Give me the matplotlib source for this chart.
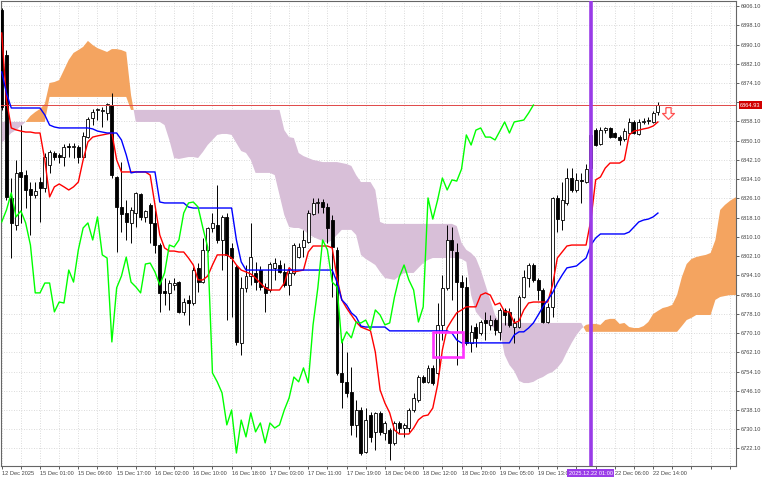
import numpy as np
import matplotlib
matplotlib.use("Agg")
import matplotlib.pyplot as plt
from matplotlib.patches import Rectangle
from matplotlib.path import Path
from matplotlib.transforms import blended_transform_factory

plt.rcParams['font.family'] = ['Liberation Sans', 'DejaVu Sans']

# H1 candles, 12 Dec 16:00 -> 22 Dec 15:00 (bar index = position on the time axis)
opens = [6904.4, 6885.7, 6826.3, 6815.0, 6837.1, 6835.8, 6830.0, 6827.5, 6832.9, 6830.4,
         6840.0, 6845.0, 6844.2, 6843.3, 6847.9, 6847.5, 6847.5, 6843.3, 6851.6, 6859.5,
         6862.9, 6862.4, 6861.6, 6865.0, 6835.0, 6822.5, 6820.0, 6815.9, 6820.0, 6827.9,
         6818.4, 6823.4, 6815.9, 6806.7, 6787.6, 6786.8, 6790.1, 6791.3, 6778.9, 6783.9,
         6782.6, 6797.2, 6791.3, 6804.7, 6813.8, 6815.0, 6808.8, 6818.4, 6805.5, 6797.6,
         6766.0, 6788.9, 6793.8, 6795.1, 6796.3, 6789.3, 6788.0, 6797.2, 6798.4, 6795.5,
         6790.1, 6795.1, 6801.7, 6805.9, 6808.0, 6819.6, 6824.2, 6824.6, 6822.5, 6817.1,
         6804.7, 6753.5, 6749.8, 6745.6, 6731.9, 6738.1, 6720.7, 6736.0, 6729.0, 6736.9,
         6728.6, 6729.8, 6724.4, 6732.7, 6730.6, 6730.6, 6738.1, 6742.3, 6751.8, 6749.8,
         6755.6, 6753.5, 6773.5, 6788.9, 6808.8, 6803.8, 6791.3, 6789.3, 6766.0, 6772.6,
         6770.1, 6775.5, 6773.5, 6775.5, 6770.6, 6779.7, 6778.9, 6772.6, 6772.6, 6785.1,
         6793.0, 6798.4, 6792.2, 6788.0, 6774.7, 6781.0, 6826.3, 6817.1, 6824.2, 6834.6,
         6829.6, 6833.8, 6832.9, 6838.7, 6854.5, 6848.7, 6854.5, 6855.4, 6853.3, 6851.6,
         6850.8, 6853.3, 6857.9, 6852.9, 6857.9, 6858.3, 6857.9, 6862.0]
highs = [6905.3, 6887.8, 6834.6, 6842.1, 6856.6, 6837.9, 6832.9, 6832.9, 6835.0, 6845.0,
         6846.2, 6845.8, 6845.0, 6848.7, 6849.1, 6849.1, 6848.3, 6853.7, 6859.9, 6863.3,
         6863.7, 6864.1, 6865.8, 6869.9, 6835.4, 6841.2, 6825.4, 6822.5, 6828.8, 6828.4,
         6821.3, 6824.2, 6821.3, 6807.6, 6793.0, 6792.2, 6793.0, 6791.8, 6784.7, 6785.9,
         6797.6, 6799.2, 6809.6, 6814.2, 6820.0, 6831.7, 6819.2, 6820.0, 6807.6, 6798.4,
         6793.4, 6798.4, 6815.9, 6799.7, 6798.0, 6790.9, 6799.7, 6801.3, 6800.5, 6799.2,
         6797.6, 6807.6, 6807.6, 6813.0, 6821.3, 6826.3, 6826.3, 6825.9, 6824.2, 6819.2,
         6805.9, 6767.6, 6762.2, 6756.0, 6742.3, 6739.4, 6738.9, 6737.3, 6737.3, 6737.7,
         6733.5, 6730.6, 6733.5, 6733.5, 6732.7, 6738.9, 6745.2, 6752.7, 6752.7, 6756.8,
         6756.8, 6782.6, 6794.2, 6815.0, 6814.2, 6807.6, 6794.2, 6793.4, 6773.5, 6774.3,
         6775.5, 6778.9, 6777.6, 6776.4, 6780.5, 6780.5, 6780.5, 6776.4, 6785.9, 6796.3,
         6799.2, 6799.2, 6793.0, 6788.9, 6782.6, 6826.7, 6827.5, 6832.9, 6838.7, 6838.7,
         6836.7, 6836.7, 6840.4, 6855.4, 6855.4, 6855.8, 6855.8, 6855.8, 6853.7, 6852.5,
         6855.4, 6859.5, 6858.7, 6859.1, 6859.5, 6859.9, 6862.4, 6866.2]
lows = [6862.9, 6825.4, 6801.3, 6813.0, 6815.9, 6822.1, 6810.9, 6826.3, 6816.3, 6828.8,
        6836.7, 6842.1, 6840.8, 6839.6, 6843.3, 6842.9, 6840.8, 6842.9, 6851.2, 6856.6,
        6858.7, 6855.8, 6858.7, 6834.6, 6803.8, 6812.1, 6808.8, 6807.6, 6814.2, 6817.1,
        6816.3, 6807.6, 6803.4, 6778.9, 6781.8, 6779.7, 6788.0, 6778.5, 6777.6, 6773.5,
        6781.8, 6787.2, 6790.9, 6803.8, 6812.1, 6807.6, 6796.3, 6775.5, 6776.8, 6765.1,
        6760.9, 6787.2, 6790.1, 6788.0, 6788.0, 6778.9, 6787.2, 6792.2, 6795.1, 6789.3,
        6785.9, 6794.2, 6801.3, 6801.7, 6807.6, 6819.2, 6820.0, 6820.0, 6807.6, 6785.1,
        6752.7, 6739.0, 6743.6, 6727.7, 6726.9, 6719.4, 6720.2, 6724.8, 6721.5, 6727.7,
        6725.6, 6717.3, 6723.6, 6728.6, 6726.9, 6729.0, 6737.3, 6741.4, 6749.4, 6749.4,
        6748.5, 6752.7, 6767.2, 6788.0, 6783.9, 6756.8, 6764.3, 6765.1, 6762.2, 6764.3,
        6769.3, 6767.2, 6771.4, 6769.3, 6767.2, 6773.5, 6772.6, 6766.0, 6772.2, 6784.7,
        6789.3, 6791.3, 6783.9, 6774.3, 6774.3, 6776.8, 6812.1, 6813.0, 6823.4, 6828.8,
        6828.8, 6824.2, 6832.5, 6838.7, 6847.9, 6848.3, 6853.3, 6851.2, 6851.2, 6848.3,
        6850.0, 6852.5, 6852.9, 6852.5, 6857.0, 6857.0, 6857.5, 6860.8]
closes = [6864.1, 6826.7, 6815.9, 6836.7, 6835.0, 6829.6, 6827.5, 6829.2, 6830.4, 6843.3,
          6845.4, 6843.3, 6843.3, 6847.5, 6847.5, 6847.9, 6843.3, 6852.1, 6859.1, 6862.0,
          6863.3, 6862.9, 6865.4, 6835.8, 6822.5, 6819.6, 6816.3, 6821.3, 6828.4, 6818.4,
          6820.9, 6815.9, 6806.7, 6786.8, 6786.8, 6790.9, 6790.9, 6778.9, 6783.0, 6782.6,
          6796.3, 6791.3, 6804.7, 6813.8, 6815.9, 6808.8, 6818.4, 6802.6, 6801.3, 6766.4,
          6788.9, 6793.8, 6801.7, 6791.3, 6789.3, 6786.8, 6798.8, 6799.2, 6795.5, 6790.1,
          6795.1, 6806.7, 6805.9, 6808.8, 6820.0, 6824.2, 6824.6, 6822.5, 6813.8, 6805.9,
          6753.5, 6749.8, 6745.2, 6731.9, 6738.1, 6720.2, 6733.9, 6726.9, 6736.9, 6729.0,
          6732.7, 6724.4, 6732.7, 6730.6, 6731.9, 6738.1, 6743.1, 6751.8, 6749.8, 6755.6,
          6749.4, 6773.5, 6788.9, 6808.8, 6804.7, 6791.3, 6789.3, 6766.0, 6770.6, 6768.1,
          6774.7, 6774.3, 6775.5, 6771.4, 6779.7, 6777.6, 6773.5, 6774.3, 6785.1, 6793.4,
          6798.4, 6792.2, 6788.0, 6774.7, 6781.0, 6826.3, 6817.5, 6825.4, 6834.6, 6829.6,
          6833.8, 6833.3, 6838.3, 6852.5, 6848.3, 6854.5, 6855.4, 6851.6, 6851.6, 6850.4,
          6854.1, 6857.9, 6853.3, 6857.9, 6858.3, 6858.7, 6861.6, 6864.93]

# Ichimoku lines
tenkan = [6894.9, 6867.0, 6855.4, 6854.6, 6854.1, 6853.7, 6853.7, 6853.3, 6853.3, 6842.1,
          6826.7, 6830.9, 6832.1, 6830.9, 6829.6, 6830.9, 6832.9, 6842.1, 6849.6, 6851.6,
          6852.1, 6852.5, 6852.9, 6853.3, 6842.1, 6837.1, 6837.1, 6837.1, 6837.1, 6837.1,
          6837.1, 6835.8, 6823.4, 6810.9, 6805.5, 6804.2, 6804.2, 6803.8, 6803.8, 6801.3,
          6798.4, 6792.2, 6792.2, 6793.8, 6798.4, 6802.6, 6802.6, 6802.6, 6801.3, 6798.4,
          6796.3, 6795.5, 6794.7, 6793.0, 6790.9, 6788.9, 6788.0, 6788.0, 6788.0, 6790.9,
          6797.2, 6795.5, 6795.9, 6796.3, 6803.8, 6806.3, 6806.3, 6806.3, 6806.3, 6805.5,
          6793.0, 6783.9, 6780.5, 6777.6, 6774.7, 6772.6, 6771.8, 6771.0, 6762.2, 6746.4,
          6741.0, 6736.9, 6729.8, 6728.1, 6728.1, 6728.1, 6730.6, 6734.0, 6735.6, 6736.0,
          6738.9, 6748.5, 6763.1, 6772.2, 6775.5, 6778.5, 6779.7, 6781.0, 6781.0, 6781.0,
          6785.9, 6786.8, 6785.9, 6781.8, 6782.6, 6778.9, 6778.9, 6774.3, 6775.1, 6779.7,
          6782.6, 6783.0, 6783.0, 6783.0, 6783.0, 6790.1, 6801.3, 6803.8, 6806.3, 6806.7,
          6806.7, 6806.7, 6806.7, 6817.1, 6833.8, 6835.0, 6838.7, 6840.8, 6840.8, 6840.8,
          6842.1, 6852.5, 6854.1, 6854.5, 6855.0, 6855.4, 6856.2, 6857.9]
kijun = [6878.7, 6869.9, 6863.7, 6863.7, 6863.7, 6863.7, 6863.7, 6863.7, 6863.7, 6860.8,
         6856.6, 6855.8, 6855.4, 6855.4, 6855.4, 6855.4, 6855.4, 6855.4, 6855.4, 6855.0,
         6854.1, 6853.7, 6853.3, 6853.3, 6853.3, 6850.4, 6844.2, 6836.7, 6837.1, 6837.1,
         6837.1, 6837.1, 6837.1, 6824.6, 6824.2, 6824.2, 6824.2, 6824.2, 6824.2, 6822.5,
         6822.1, 6822.1, 6822.1, 6822.1, 6822.1, 6822.1, 6822.1, 6822.1, 6822.1, 6808.8,
         6799.7, 6796.3, 6796.3, 6796.3, 6796.3, 6796.3, 6796.3, 6796.3, 6796.3, 6796.3,
         6796.3, 6796.3, 6796.3, 6796.3, 6796.3, 6796.3, 6796.3, 6796.3, 6796.3, 6796.3,
         6791.3, 6783.9, 6781.8, 6778.5, 6776.8, 6773.0, 6772.6, 6772.6, 6772.6, 6772.6,
         6772.6, 6771.0, 6771.0, 6771.0, 6771.0, 6771.0, 6771.0, 6771.0, 6771.0, 6771.0,
         6771.0, 6771.0, 6771.0, 6771.0, 6770.1, 6767.2, 6766.0, 6766.0, 6766.0, 6766.0,
         6766.0, 6766.0, 6766.0, 6766.0, 6766.0, 6766.0, 6766.0, 6769.3, 6770.6, 6770.6,
         6772.2, 6774.3, 6777.6, 6781.0, 6783.9, 6786.8, 6790.9, 6794.2, 6797.2, 6797.6,
         6798.0, 6799.7, 6801.3, 6806.7, 6809.6, 6811.3, 6811.3, 6811.3, 6811.3, 6811.3,
         6811.3, 6812.1, 6814.2, 6816.3, 6817.1, 6817.5, 6818.4, 6820.0]
span_a = [6849.1, 6851.2, 6853.3, 6854.5, 6856.2, 6857.9, 6860.4, 6862.0, 6863.3, 6865.4,
          6874.1, 6874.5, 6875.3, 6879.5, 6883.7, 6886.6, 6887.8, 6889.1, 6891.6, 6889.9,
          6888.6, 6887.8, 6887.0, 6888.2, 6888.2, 6887.8, 6887.0, 6869.1, 6857.9, 6857.9,
          6857.9, 6857.9, 6857.9, 6857.9, 6856.6, 6850.4, 6842.9, 6842.5, 6842.9, 6843.3,
          6843.3, 6842.9, 6845.4, 6848.3, 6850.4, 6852.5, 6852.9, 6852.9, 6852.5, 6849.1,
          6845.8, 6845.0, 6842.1, 6836.7, 6836.7, 6836.7, 6836.7, 6835.8, 6827.5, 6819.2,
          6814.2, 6813.8, 6813.8, 6813.0, 6811.3, 6810.1, 6809.2, 6808.4, 6807.6, 6808.8,
          6810.9, 6813.0, 6813.0, 6813.0, 6810.9, 6802.6, 6800.9, 6799.7, 6798.4, 6795.5,
          6793.0, 6792.6, 6792.2, 6793.8, 6795.1, 6795.1, 6795.1, 6797.2, 6799.2, 6800.5,
          6801.3, 6801.3, 6801.3, 6801.3, 6801.3, 6801.3, 6800.9, 6799.7, 6785.9, 6778.9,
          6776.4, 6774.7, 6773.0, 6772.2, 6771.4, 6761.0, 6756.8, 6754.3, 6750.2, 6749.3,
          6749.3, 6749.8, 6751.0, 6751.8, 6753.1, 6753.9, 6755.6, 6758.1, 6762.2, 6766.0,
          6769.3, 6771.8, 6773.5, 6773.9, 6773.9, 6773.5, 6775.5, 6776.0, 6776.0, 6773.9,
          6774.3, 6772.6, 6772.2, 6772.2, 6773.0, 6774.7, 6778.0, 6779.3, 6780.5, 6781.0,
          6781.8, 6785.9, 6793.4, 6798.8, 6800.9, 6801.7, 6802.2, 6802.6, 6803.4, 6808.8,
          6821.3, 6823.4, 6825.0, 6826.3, 6827.1]
span_b = [6857.9, 6857.9, 6857.9, 6857.9, 6857.9, 6857.9, 6857.9, 6857.9, 6857.9, 6857.9,
          6868.3, 6868.3, 6868.3, 6868.3, 6868.3, 6868.3, 6868.3, 6868.3, 6868.3, 6868.3,
          6868.3, 6868.3, 6868.3, 6868.3, 6868.3, 6868.3, 6868.3, 6862.9, 6862.9, 6862.9,
          6862.9, 6862.9, 6862.9, 6862.9, 6862.9, 6862.9, 6862.9, 6862.9, 6862.9, 6862.9,
          6862.9, 6862.9, 6862.9, 6862.9, 6862.9, 6862.9, 6862.9, 6862.9, 6862.9, 6862.9,
          6862.9, 6862.9, 6862.9, 6862.9, 6862.9, 6862.9, 6862.9, 6862.9, 6862.9, 6854.5,
          6851.6, 6851.2, 6845.0, 6843.7, 6842.9, 6842.1, 6841.7, 6841.2, 6841.2, 6841.2,
          6841.2, 6840.8, 6840.4, 6839.6, 6835.8, 6832.9, 6832.9, 6832.9, 6829.6, 6816.3,
          6815.5, 6815.5, 6815.5, 6815.5, 6815.5, 6815.5, 6815.5, 6815.5, 6815.5, 6815.5,
          6815.5, 6815.5, 6815.5, 6815.5, 6815.5, 6814.6, 6807.6, 6804.7, 6803.4, 6801.3,
          6796.3, 6790.1, 6783.9, 6777.6, 6774.3, 6774.3, 6774.3, 6774.3, 6774.3, 6774.3,
          6774.3, 6774.3, 6774.3, 6774.3, 6774.3, 6774.3, 6774.3, 6774.3, 6774.3, 6774.3,
          6774.3, 6774.3, 6770.6, 6770.6, 6770.6, 6770.6, 6770.6, 6770.6, 6770.6, 6770.6,
          6770.6, 6770.6, 6770.6, 6770.6, 6770.6, 6770.6, 6770.6, 6770.6, 6770.6, 6770.6,
          6770.6, 6770.6, 6773.0, 6775.5, 6776.4, 6777.6, 6777.6, 6777.6, 6777.6, 6783.9,
          6785.1, 6785.5, 6785.9, 6785.9, 6785.9]
chikou_shift = 26

last_price = 6864.93
session_bar = 123          # 2025.12.22 01:00
session_label = "2025.12.22 01:00"
box_bars = (90.0, 96.25)   # highlighted zone
box_prices = (6760.3, 6770.7)
arrow_bar, arrow_price = 139, 6861.8

xtick_bars = [0, 8, 16, 24, 32, 40, 48, 56, 64, 72, 80, 88, 96, 104, 112, 128, 136]
xtick_labels = ["12 Dec 2025", "15 Dec 01:00", "15 Dec 09:00", "15 Dec 17:00", "16 Dec 02:00",
                "16 Dec 10:00", "16 Dec 18:00", "17 Dec 03:00", "17 Dec 11:00", "17 Dec 19:00",
                "18 Dec 04:00", "18 Dec 12:00", "18 Dec 20:00", "19 Dec 05:00", "19 Dec 13:00",
                "22 Dec 06:00", "22 Dec 14:00"]
price_ticks = np.arange(6722.1, 6906.2, 8.0)

o = np.array(opens)
h = np.array(highs)
l = np.array(lows)
c = np.array(closes)
bars = np.arange(len(c))
sa = np.array(span_a)
sb = np.array(span_b)
xa = np.arange(len(sa))

fig = plt.figure(figsize=(7.68, 4.8), dpi=100)
ax = fig.add_axes([0.5 / 768, 14 / 480, 735.5 / 768, 465 / 480])
ax.set_xlim(-0.25, 153.3)
ax.set_ylim(6714.8, 6908.2)

# cloud
ax.fill_between(xa, sa, sb, where=sa >= sb, interpolate=True, color='#F4A460', lw=0, zorder=1)
ax.fill_between(xa, sa, sb, where=sa < sb, interpolate=True, color='#D8BFD8', lw=0, zorder=1)

# candles
up = c >= o
body_lo = np.minimum(o, c)
body_h = np.maximum(np.abs(c - o), 0.3)
ax.vlines(bars, l, h, color='black', lw=0.7, zorder=3)
ax.bar(bars[up], body_h[up], bottom=body_lo[up], width=0.62, color='white',
       edgecolor='black', linewidth=0.6, zorder=3.2)
ax.bar(bars[~up], body_h[~up], bottom=body_lo[~up], width=0.62, color='black',
       edgecolor='black', linewidth=0.6, zorder=3.2)

# price line
ax.axhline(last_price, color='#E04848', lw=0.7, zorder=3.5)

# ichimoku lines
ax.plot(bars, tenkan, color='#FF0000', lw=1.0, zorder=4)
ax.plot(bars, kijun, color='#0000FF', lw=1.0, zorder=4)
ax.plot(bars[chikou_shift:] - chikou_shift, c[chikou_shift:], color='#00FF00', lw=1.0, zorder=4)

# session line, box, arrow
ax.axvline(session_bar, color='#9A3BE8', lw=2.6, zorder=5)
ax.add_patch(Rectangle((box_bars[0], box_prices[0]), box_bars[1] - box_bars[0],
                       box_prices[1] - box_prices[0], fill=False, ec='#FF33FF', lw=1.9, zorder=6))
arrow = Path([(-0.22, 0.5), (0.22, 0.5), (0.22, 0.0), (0.5, 0.0), (0.0, -0.5),
              (-0.5, 0.0), (-0.22, 0.0), (-0.22, 0.5)])
ax.plot(arrow_bar, arrow_price, marker=arrow, markersize=8.5, mfc='white', mec='#FF5050',
        mew=0.9, zorder=6)

# axes styling
ax.yaxis.tick_right()
ax.set_yticks(price_ticks)
# the label nearest the last price sits under the price box, so it is left blank
ax.set_yticklabels(['' if abs(v - last_price) < 4 else '%.2f' % v for v in price_ticks])
ax.set_xticks(xtick_bars)
ax.set_xticklabels(xtick_labels)
ax.set_xticks(np.arange(0, 154, 4), minor=True)
for lab in ax.get_xticklabels():
    lab.set_horizontalalignment('left')
ax.tick_params(axis='both', which='both', direction='out', length=2.3, width=0.6,
               colors='#444444', labelsize=4.1, pad=1.2)
ax.tick_params(axis='x', which='major', pad=1.5)
ax.set_axisbelow(True)
ax.grid(True, axis='y', which='major', color='#cfcfcf', lw=0.6, ls=(0, (1, 2)))
ax.grid(True, axis='x', which='both', color='#cfcfcf', lw=0.6, ls=(0, (1, 2)))
for sp in ax.spines.values():
    sp.set_color('#666666')
    sp.set_linewidth(0.8)

# price label and session label
tr_y = blended_transform_factory(ax.transAxes, ax.transData)
ax.text(1.0054, last_price, '%.2f' % last_price, transform=tr_y, ha='left', va='center',
        fontsize=4.1, color='white', zorder=10, clip_on=False,
        bbox=dict(boxstyle='square,pad=0.25', fc='#D10000', ec='none'))
tr_x = blended_transform_factory(ax.transData, ax.transAxes)
ax.text(session_bar, -0.0155, session_label, transform=tr_x, ha='center', va='center',
        fontsize=4.1, color='white', zorder=10, clip_on=False,
        bbox=dict(boxstyle='square,pad=0.25', fc='#9A3BE8', ec='none'))

fig.savefig('out.png', dpi=100)
